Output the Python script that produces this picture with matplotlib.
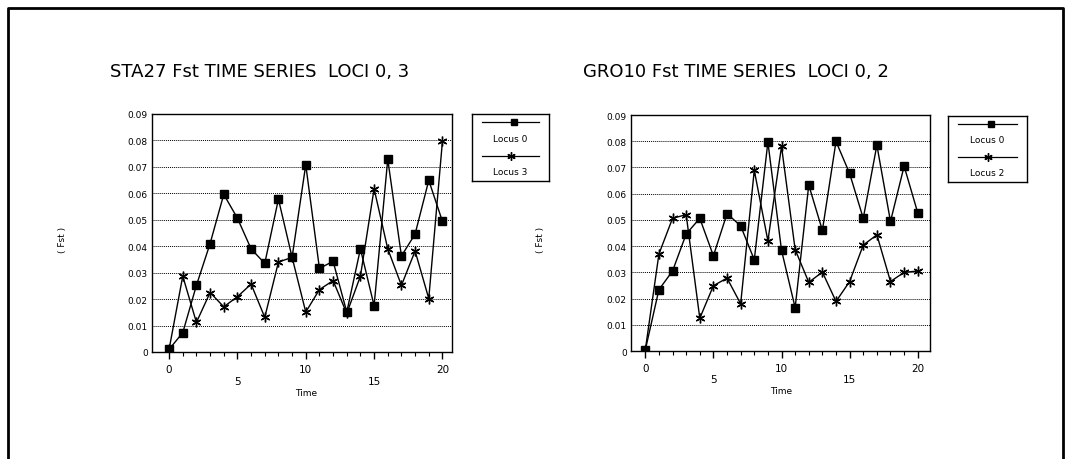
import matplotlib.pyplot as plt
from matplotlib.lines import Line2D

time = list(range(21))

# STA27
sta_locus0 = [0.001, 0.0073, 0.0252, 0.041, 0.0596, 0.0506, 0.039, 0.0335, 0.0578, 0.0358, 0.0708,
              0.0316, 0.0343, 0.0151, 0.039, 0.0175, 0.0729, 0.0363, 0.0446, 0.0649, 0.0494]
sta_locus3 = [0.001, 0.0287, 0.0112, 0.0225, 0.0171, 0.0209, 0.0257, 0.0131, 0.034, 0.0358, 0.0151,
              0.0236, 0.027, 0.0146, 0.0287, 0.0617, 0.039, 0.0252, 0.0382, 0.0202, 0.0797]

# GRO10
gro_locus0 = [0.0004, 0.0234, 0.0305, 0.0446, 0.0506, 0.0363, 0.0524, 0.0477, 0.0348, 0.0797, 0.0384,
              0.0165, 0.0633, 0.046, 0.0799, 0.0677, 0.0506, 0.0785, 0.0494, 0.0705, 0.0527]
gro_locus2 = [0.0004, 0.037, 0.0506, 0.052, 0.0125, 0.0249, 0.0278, 0.018, 0.0689, 0.042, 0.078,
              0.0387, 0.0262, 0.0301, 0.0189, 0.0265, 0.0404, 0.0443, 0.0265, 0.03, 0.0305]

titles = ['STA27 Fst TIME SERIES  LOCI 0, 3', 'GRO10 Fst TIME SERIES  LOCI 0, 2']
labels = [['Locus 0', 'Locus 3'], ['Locus 0', 'Locus 2']]
yticks = [0, 0.01, 0.02, 0.03, 0.04, 0.05, 0.06, 0.07, 0.08, 0.09]
yticklabels = ['0', '0.01', '0.02', '0.03', '0.04', '0.05', '0.06', '0.07', '0.08', '0.09']

W, H = 1072, 460
fig = plt.figure(figsize=(W / 100, H / 100), dpi=100)

def fr(x0, y0, x1, y1):
    # pixel box -> figure fraction rect
    return [x0 / W, 1 - y1 / H, (x1 - x0) / W, (y1 - y0) / H]

star = (6, 2, 0)
panels = [
    (sta_locus0, sta_locus3, (152, 115, 452, 353), (-1.25, 20.7), (472, 115, 549, 182), 110, 63),
    (gro_locus0, gro_locus2, (631, 116, 930, 352), (-1.05, 20.9), (948, 117, 1027, 183), 583, 540),
]

for i, (s0, s1, box, xl, lbox, tx, ylx) in enumerate(panels):
    ax = fig.add_axes(fr(*box))
    ax.plot(time, s0, color='black', lw=1, marker='s', ms=6)
    ax.plot(time, s1, color='black', lw=1, marker=star, ms=7, mew=1)
    ax.set_xlim(*xl)
    ax.set_ylim(0, 0.09)
    for g in yticks[1:-1]:
        ax.axhline(g, color='black', lw=0.7, ls=(0, (1, 1)), zorder=0)
    ax.set_yticks(yticks)
    ax.set_yticklabels(yticklabels, fontsize=6.5)
    ax.tick_params(axis='y', length=0, pad=3)
    ax.set_xticks(range(21), minor=True)
    ax.set_xticks([0, 5, 10, 15, 20])
    ax.set_xticklabels([])
    ax.tick_params(axis='x', which='major', length=5, width=1, direction='out')
    ax.tick_params(axis='x', which='minor', length=3, width=0.8, direction='out')
    for x in [0, 10, 20]:
        ax.text(x, -0.0063, str(x), ha='center', va='center', fontsize=7.5)
    for x in [5, 15]:
        ax.text(x, -0.0108, str(x), ha='center', va='center', fontsize=7.5)
    ax.text(10, -0.0152, 'Time', ha='center', va='center', fontsize=6.5)
    for sp in ax.spines.values():
        sp.set_linewidth(1)

    fig.text(tx / W, 1 - 72 / H, titles[i], fontsize=13, ha='left', va='center')
    fig.text(ylx / W, 1 - 240 / H, '( Fst )', fontsize=6.5, rotation=90, ha='center', va='center')

    # legend box: handle above label
    lg = fig.add_axes(fr(*lbox))
    lg.set_xlim(0, 1)
    lg.set_ylim(0, 1)
    lg.set_xticks([])
    lg.set_yticks([])
    for sp in lg.spines.values():
        sp.set_linewidth(1)
    lg.plot([0.13, 0.87], [0.88, 0.88], color='black', lw=0.9)
    lg.plot([0.55], [0.88], color='black', marker='s', ms=5)
    lg.text(0.5, 0.64, labels[i][0], ha='center', va='center', fontsize=6.5)
    lg.plot([0.13, 0.87], [0.38, 0.38], color='black', lw=0.9)
    lg.plot([0.5], [0.38], color='black', marker=star, ms=6, mew=1)
    lg.text(0.5, 0.14, labels[i][1], ha='center', va='center', fontsize=6.5)

# outer frame (open at the bottom)
fig.add_artist(Line2D([8 / W, 8 / W, 1063 / W, 1063 / W], [0, 1 - 9 / H, 1 - 9 / H, 0],
                      transform=fig.transFigure, color='black', lw=2))

plt.savefig('out.png', dpi=100)
